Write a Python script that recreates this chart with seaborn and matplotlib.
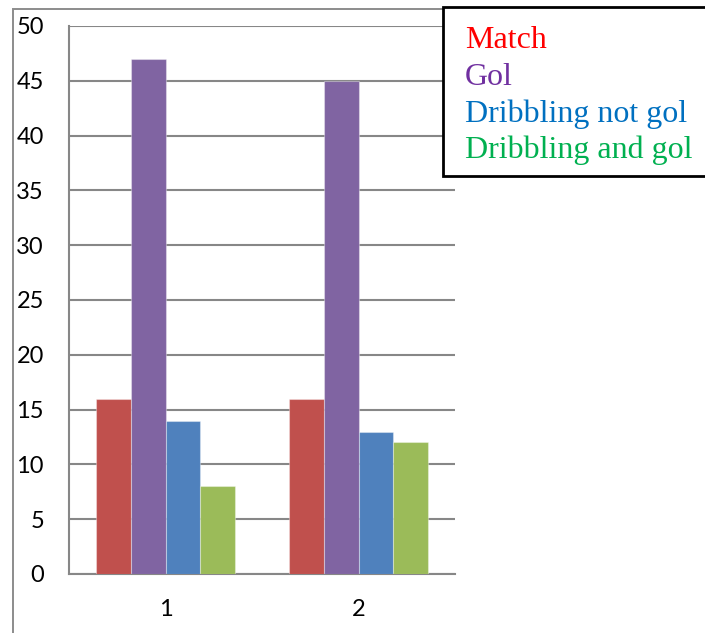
import matplotlib
matplotlib.use("Agg")
import matplotlib.pyplot as plt
from matplotlib.patches import Rectangle
import seaborn as sns
import pandas as pd

# Data
groups = ["1", "2"]
series = ["Match", "Gol", "Dribbling not gol", "Dribbling and gol"]
match_vals = [16, 16]
gol_vals = [47, 45]
dribbling_not_gol_vals = [14, 13]
dribbling_and_gol_vals = [8, 12]

bar_colors = ["#C0504D", "#8064A2", "#4F81BD", "#9BBB59"]
legend_colors = ["#FF0000", "#7030A0", "#0070C0", "#00B050"]
y_ticks = [0, 5, 10, 15, 20, 25, 30, 35, 40, 45, 50]

records = []
for name, vals in zip(series, [match_vals, gol_vals,
                               dribbling_not_gol_vals, dribbling_and_gol_vals]):
    for g, v in zip(groups, vals):
        records.append({"group": g, "series": name, "value": v})
df = pd.DataFrame(records)

sns.set_style("white")
plt.rcParams["font.family"] = ["Lato", "DejaVu Sans"]

W, H = 705, 633
fig = plt.figure(figsize=(W / 100, H / 100), dpi=100)
ax = fig.add_axes([69 / W, 1 - 574 / H, (455 - 69) / W, (574 - 26) / H])

grid_col = "#878787"

sns.barplot(data=df, x="group", y="value", hue="series", order=groups,
            hue_order=series, palette=bar_colors, width=0.72, saturation=1,
            edgecolor=(1, 1, 1, 0.35), linewidth=0.8, legend=False, ax=ax,
            zorder=3)

ax.set_xlim(-0.5, len(groups) - 0.5)
ax.set_ylim(0, 50)
ax.set_yticks(y_ticks)
ax.set_yticklabels([str(t) for t in y_ticks])
ax.set_xlabel("")
ax.set_ylabel("")

# Horizontal gridlines
ax.yaxis.grid(True, color=grid_col, linewidth=1.5)
ax.xaxis.grid(False)
ax.set_axisbelow(True)

for side in ["top", "right"]:
    ax.spines[side].set_visible(False)
for side in ["left", "bottom"]:
    ax.spines[side].set_color(grid_col)
    ax.spines[side].set_linewidth(1.5)

# Category labels at centres, tick marks at boundaries
ax.set_xticks(range(len(groups)))
ax.set_xticklabels(groups)
ax.set_xticks([i - 0.5 for i in range(len(groups) + 1)], minor=True)
ax.tick_params(axis="x", which="major", length=0, pad=18, labelsize=17,
               labelcolor="black")
ax.tick_params(axis="x", which="minor", length=6, width=1.5, color=grid_col,
               direction="out")
ax.tick_params(axis="y", which="major", length=6, width=1.5, color=grid_col,
               direction="out", pad=12, labelsize=17, labelcolor="black")

# Outer chart frame
fig.patches.append(Rectangle((13 / W, -0.1), 1.2, 1.1 - 9 / H,
                             transform=fig.transFigure, fill=False,
                             edgecolor="#8C8C8C", linewidth=1.4, zorder=0))

# Legend box with coloured series names
fig.patches.append(Rectangle((443 / W, 1 - 176 / H), 0.5, (176 - 7) / H,
                             transform=fig.transFigure, facecolor="white",
                             edgecolor="black", linewidth=2, zorder=5))
baselines = [48, 85, 122, 158]
for name, col, yb in zip(series, legend_colors, baselines):
    fig.text(465 / W, 1 - yb / H, name, color=col, fontsize=23,
             family=["Liberation Serif", "DejaVu Serif"], va="baseline",
             ha="left", zorder=6)

fig.savefig("out.png", dpi=100, facecolor="white")
